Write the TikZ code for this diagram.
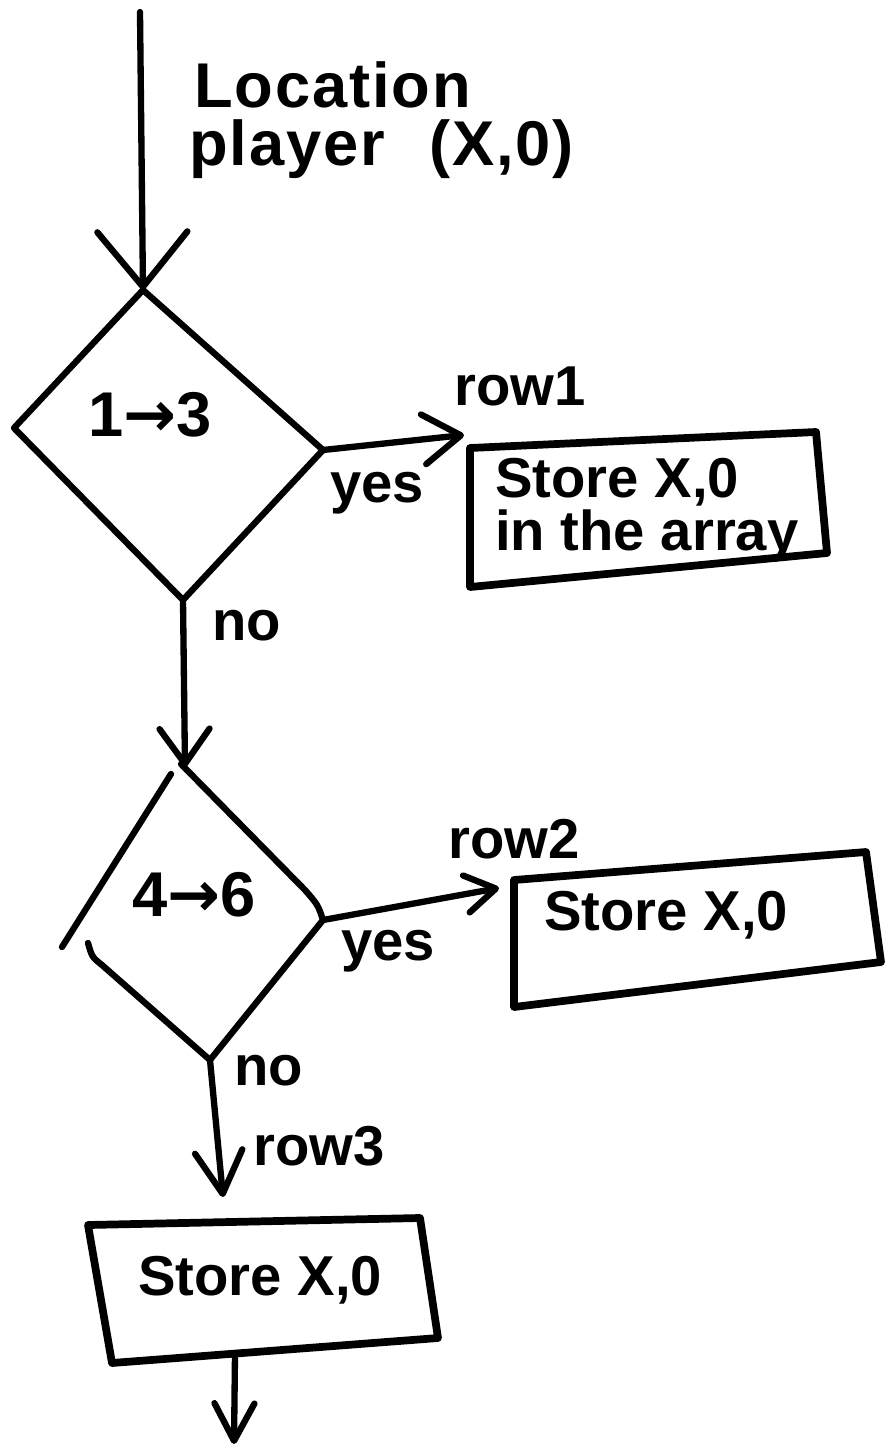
\documentclass[tikz,border=0pt]{standalone}
\usepackage{fontspec}
\setmainfont{Liberation Sans}
\newfontfamily\arrowfont{DejaVu Sans}
\usetikzlibrary{arrows.meta}
\tikzset{
  ink/.style={line width=3.6pt, line cap=round, line join=round},
  boxink/.style={line width=4.4pt, line cap=round, line join=round},
  barb/.style 2 args={-{Straight Barb[length=#1,width=#2,round]}},
  lbl/.style={inner sep=0pt, font=\fontsize{32}{36}\selectfont\bfseries},
  biglbl/.style={inner sep=0pt, font=\fontsize{36}{40}\selectfont\bfseries\addfontfeature{LetterSpace=3}},
  cond/.style={inner sep=0pt, font=\fontsize{36}{40}\selectfont\bfseries},
}
\begin{document}
\begin{tikzpicture}[x=0.02cm,y=-0.02cm]
\useasboundingbox (0,0) rectangle (890,1451);

% entry label
\node[biglbl, anchor=base west] (loc1) at (194,107) {Location};
\node[biglbl, anchor=base west] (loc2) at (189,165) {player\hspace{0.7em}(X,0)};

% decision 1
\coordinate (src) at (140,12);
\coordinate (d1t) at (143,290);
\coordinate (d1r) at (323,450);
\coordinate (d1b) at (183,600);
\coordinate (d1l) at (14,428);
\draw[ink] (d1t) -- (d1r) -- (d1b) -- (d1l) -- cycle;
\node[cond] (q1) at (150,415) {1{\arrowfont →}3};
\draw[ink, barb={1.1cm}{1.8cm}] (src) -- (d1t);

% box 1
\coordinate (b1a) at (470,448);
\coordinate (b1b) at (816,432);
\coordinate (b1c) at (827,553);
\coordinate (b1d) at (470,587);
\draw[boxink] (b1a) -- (b1b) -- (b1c) -- (b1d) -- cycle;
\node[lbl, align=left, anchor=north west, font=\fontsize{32}{30}\selectfont\bfseries] (s1) at (495,458) {Store X,0\\in the array};
\coordinate (t1) at (464,435);
\draw[ink, barb={0.75cm}{1cm}] (d1r) -- (t1);
\node[lbl, anchor=base west] (r1) at (454,405) {row1};
\node[lbl, anchor=base west] (y1) at (330,502) {yes};
\node[lbl, anchor=base west] (n1) at (212,640) {no};

% decision 2
\coordinate (t2) at (185,767);
\draw[ink, barb={0.7cm}{1cm}] (d1b) -- (t2);
\coordinate (d2t) at (181,764);
\coordinate (d2r) at (323,920);
\coordinate (d2b) at (210,1060);
\coordinate (d2la) at (62,947);
\coordinate (d2lb) at (88,943);
\coordinate (d2ls) at (171,774);
\draw[ink] (d2ls) -- (d2la);
\draw[ink] (d2t) -- (305,890) .. controls (318,905) .. (d2r) -- (d2b)
  -- (102,965) .. controls (92,957) .. (d2lb);
\node[cond] (q2) at (194,895) {4{\arrowfont →}6};

% box 2
\coordinate (t3) at (499,888);
\draw[ink, barb={0.6cm}{0.75cm}] (d2r) -- (t3);
\coordinate (b2a) at (514,880);
\coordinate (b2b) at (866,852);
\coordinate (b2c) at (881,962);
\coordinate (b2d) at (514,1007);
\draw[boxink] (b2a) -- (b2b) -- (b2c) -- (b2d) -- cycle;
\node[lbl, anchor=base west] (s2) at (544,930) {Store X,0};
\node[lbl, anchor=base west] (r2) at (448,858) {row2};
\node[lbl, anchor=base west] (y2) at (341,960) {yes};
\node[lbl, anchor=base west] (n2) at (234,1085) {no};

% box 3
\coordinate (t4) at (223,1197);
\draw[ink, barb={0.85cm}{0.95cm}] (d2b) -- (t4);
\node[lbl, anchor=base west] (r3) at (253,1165) {row3};
\coordinate (b3a) at (88,1225);
\coordinate (b3b) at (420,1218);
\coordinate (b3c) at (438,1338);
\coordinate (b3d) at (112,1363);
\draw[boxink] (b3a) -- (b3b) -- (b3c) -- (b3d) -- cycle;
\node[lbl, anchor=base west] (s3) at (138,1295) {Store X,0};
\coordinate (b3o) at (235,1354);
\coordinate (t5) at (234,1444);
\draw[ink, barb={0.75cm}{0.8cm}] (b3o) -- (t5);
\end{tikzpicture}
\end{document}
